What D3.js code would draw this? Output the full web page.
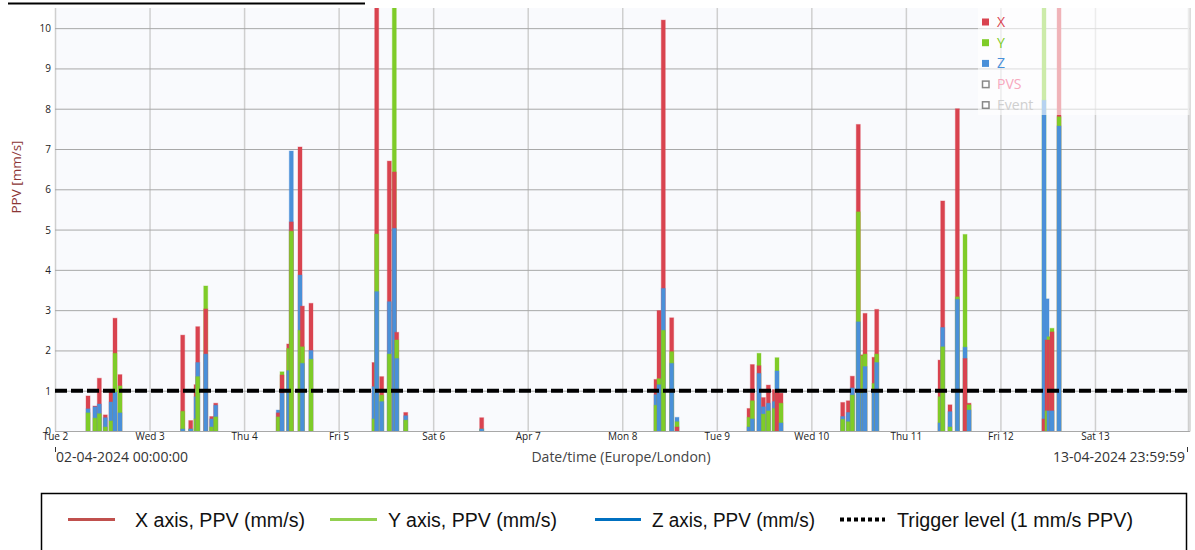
<!DOCTYPE html>
<html>
<head>
  <meta charset="utf-8">
  <script src="https://cdn.jsdelivr.net/npm/d3@7"></script>
  <style>
    body { margin: 0; background: #fff; }
    svg text { font-family: "Open Sans", "Noto Sans", sans-serif; }
    .tick text { font-size: 10px; fill: #222; }
    .legend-bottom text { font-family: "Liberation Sans Narrow", "Arial Narrow", "Liberation Sans", sans-serif; font-size: 20px; fill: #111; }
  </style>
</head>
<body>
<script>
  // event times (local), and PPV per axis in mm/s
  var eventTimes = [
    "04-02 08:23", "04-02 10:09", "04-02 11:15", "04-02 12:46", "04-02 14:13", "04-02 15:14", "04-02 16:30",
    "04-03 08:25", "04-03 10:27", "04-03 11:48", "04-03 12:14", "04-03 14:16", "04-03 15:47", "04-03 16:48",
    "04-04 08:41", "04-04 09:38", "04-04 11:20", "04-04 11:59", "04-04 14:12", "04-04 14:47", "04-04 16:59",
    "04-05 08:59", "04-05 09:40", "04-05 10:56", "04-05 12:52", "04-05 14:08", "04-05 14:45", "04-05 17:02",
    "04-06 12:19",
    "04-08 08:34", "04-08 09:20", "04-08 10:25", "04-08 12:33", "04-08 13:54",
    "04-09 08:11", "04-09 09:01", "04-09 10:43", "04-09 11:49", "04-09 13:05", "04-09 14:36", "04-09 15:17", "04-09 16:18",
    "04-10 07:58", "04-10 09:23", "04-10 10:24", "04-10 11:55", "04-10 13:02", "04-10 13:38", "04-10 15:55", "04-10 16:36",
    "04-11 08:40", "04-11 09:21", "04-11 11:12", "04-11 13:04", "04-11 15:01", "04-11 16:02",
    "04-12 11:04", "04-12 11:50", "04-12 12:20", "04-12 13:06", "04-12 14:53"
  ];
  var xPPV = [
    0.87, 0.62, 1.31, 0.40, 0.97, 2.80, 1.40,
    2.38, 0.26, 1.15, 2.59, 3.03, 0.36, 0.69,
    0.45, 1.39, 2.16, 5.19, 7.05, 3.10, 3.17,
    1.70, 11.5, 1.35, 6.70, 6.43, 2.45, 0.46,
    0.33,
    1.28, 2.99, 10.2, 2.81, 0.10,
    0.56, 1.65, 1.62, 0.83, 1.14, 1.03, 0.98, 0.94,
    0.71, 0.75, 1.36, 7.61, 1.89, 2.92, 1.83, 3.02,
    1.76, 5.71, 0.65, 8.00, 1.80, 0.69,
    0.30, 2.26, 2.26, 2.46, 11.5
  ];
  var yPPV = [
    0.45, 0.32, 0.43, 0.10, 0.25, 1.93, 1.12,
    0.49, 0.05, 0.30, 1.35, 3.60, 0.10, 0.35,
    0.35, 1.47, 2.05, 4.96, 2.50, 2.09, 1.78,
    0.30, 4.89, 0.89, 1.91, 11.5, 2.26, 0.27,
    0.05,
    0.64, 1.30, 2.50, 1.97, 0.23,
    0.34, 0.75, 1.93, 0.42, 0.50, 0.56, 1.82, 0.69,
    0.29, 0.23, 0.89, 5.44, 1.87, 1.91, 1.18, 1.91,
    0.85, 2.09, 0.10, 3.33, 4.88, 0.65,
    11.5, 0.50, 2.34, 2.55, 7.80
  ];
  var zPPV = [
    0.55, 0.60, 0.67, 0.33, 0.72, 0.96, 0.45,
    0.05, 0.05, 0.85, 1.70, 1.91, 0.30, 0.64,
    0.52, 0.94, 1.50, 6.95, 3.87, 1.68, 2.00,
    1.10, 3.46, 0.73, 3.21, 5.03, 1.80, 0.38,
    0.05,
    0.90, 1.15, 3.54, 1.68, 0.34,
    0.10, 0.30, 1.43, 0.60, 0.69, 0.73, 1.49, 0.20,
    0.36, 0.46, 1.07, 2.71, 0.94, 1.60, 1.02, 1.70,
    0.20, 2.57, 0.48, 3.27, 2.08, 0.52,
    8.21, 3.28, 0.50, 0.50, 7.57
  ];
  var triggerLevel = 1;
  var yTicks = [0, 1, 2, 3, 4, 5, 6, 7, 8, 9, 10];
  var dayLabels = ["Tue 2", "Wed 3", "Thu 4", "Fri 5", "Sat 6", "Apr 7", "Mon 8",
                   "Tue 9", "Wed 10", "Thu 11", "Fri 12", "Sat 13"];
  var seriesNames = ["X", "Y", "Z"];
  var seriesColors = ["#d9434f", "#7fcc28", "#4a90d9"];
  var bottomLegend = ["X axis, PPV (mm/s)", "Y axis, PPV (mm/s)", "Z axis, PPV (mm/s)", "Trigger level (1 mm/s PPV)"];

  var W = 1195, H = 550;
  var plotL = 55, plotR = 1189.5, plotT = 8, plotB = 431;

  var svg = d3.select("body").append("svg")
    .attr("width", W).attr("height", H);

  /* cut off header bar at the very top */
  svg.append("line")
    .attr("x1", 8).attr("x2", 365).attr("y1", 3.5).attr("y2", 3.5)
    .style("stroke", "#000").style("stroke-width", 2);

  var parseT = d3.timeParse("%Y-%m-%d %H:%M");
  var events = eventTimes.map(function(t, i) {
    return { t: parseT("2024-" + t), v: [xPPV[i], yPPV[i], zPPV[i]] };
  });

  var x = d3.scaleTime()
    .domain([new Date(2024, 3, 2), new Date(2024, 3, 14)])
    .range([plotL, plotR]);
  var y = d3.scaleLinear().domain([0, 10.5]).range([plotB, plotT]);

  // plot background
  svg.append("rect")
    .attr("x", plotL).attr("y", plotT)
    .attr("width", plotR - plotL).attr("height", plotB - plotT)
    .style("fill", "#f9fafd");

  // vertical grid + day labels
  var dayTicks = d3.timeDay.range(new Date(2024, 3, 2), new Date(2024, 3, 14));
  var xAxis = svg.append("g")
    .attr("transform", "translate(0," + plotB + ")")
    .call(d3.axisBottom(x).tickValues(dayTicks)
      .tickFormat(function(d, i) { return dayLabels[i]; })
      .tickSize(-(plotB - plotT)).tickPadding(1));
  xAxis.select(".domain").style("stroke", "#bbb");
  xAxis.selectAll(".tick line").style("stroke", "#cfcfcf").style("stroke-width", 1.5);
  xAxis.selectAll(".tick text").attr("dy", "0.8em");

  // horizontal grid + y labels
  var yAxis = svg.append("g")
    .attr("transform", "translate(" + plotL + ",0)")
    .call(d3.axisLeft(y).tickValues(yTicks).tickSize(-(plotR - plotL)).tickPadding(4));
  yAxis.select(".domain").remove();
  yAxis.selectAll(".tick line").style("stroke", "#a8a8a8").style("stroke-width", 1);
  yAxis.selectAll(".tick text").attr("dy", "0.35em");

  // right edge line
  svg.append("line")
    .attr("x1", plotR - 1).attr("x2", plotR - 1).attr("y1", plotT).attr("y2", plotB)
    .style("stroke", "#cfcfcf").style("stroke-width", 1.5);

  svg.append("clipPath").attr("id", "plotclip")
    .append("rect").attr("x", plotL).attr("y", plotT)
    .attr("width", plotR - plotL).attr("height", plotB - plotT);

  // bars: three overlaid bars per event, tallest drawn first
  var bars = svg.append("g").attr("clip-path", "url(#plotclip)");
  events.forEach(function(e) {
    var order = [0, 1, 2].sort(function(a, b) { return e.v[b] - e.v[a]; });
    bars.selectAll(null)
      .data(order)
      .enter().append("rect")
      .attr("x", x(e.t) - 2)
      .attr("width", 4)
      .attr("y", function(k) { return y(e.v[k]); })
      .attr("height", function(k) { return plotB - y(e.v[k]); })
      .style("fill", function(k) { return seriesColors[k]; })
      .style("stroke", function(k) { return seriesColors[k]; })
      .style("stroke-opacity", 0.35)
      .style("stroke-width", 1);
  });

  // trigger level
  svg.append("line")
    .attr("x1", plotL).attr("x2", plotR)
    .attr("y1", y(triggerLevel)).attr("y2", y(triggerLevel))
    .style("stroke", "#000").style("stroke-width", 4)
    .style("stroke-dasharray", "12,4");

  // in-plot legend with translucent panel
  svg.append("rect")
    .attr("x", 978).attr("y", plotT).attr("width", plotR - 978).attr("height", 107)
    .style("fill", "#fff").style("fill-opacity", 0.6);
  var legItems = [
    { name: "X", color: "#d9434f", box: "#d9434f", filled: true },
    { name: "Y", color: "#7fcc28", box: "#7fcc28", filled: true },
    { name: "Z", color: "#4a90d9", box: "#4a90d9", filled: true },
    { name: "PVS", color: "#f7a8bd", box: "#888", filled: false },
    { name: "Event", color: "#cfcfcf", box: "#888", filled: false }
  ];
  var leg = svg.append("g").selectAll("g").data(legItems).enter().append("g")
    .attr("transform", function(d, i) { return "translate(982," + (22 + i * 20.7) + ")"; });
  leg.append("rect")
    .attr("x", function(d) { return d.filled ? 0 : 0.5; })
    .attr("y", function(d) { return d.filled ? -3.5 : -3; })
    .attr("width", function(d) { return d.filled ? 7 : 6.5; })
    .attr("height", function(d) { return d.filled ? 7 : 6.5; })
    .style("fill", function(d) { return d.filled ? d.box : "none"; })
    .style("stroke", function(d) { return d.filled ? "none" : d.box; })
    .style("stroke-width", 1.5);
  leg.append("text")
    .attr("x", 15).attr("y", 0).attr("dy", "0.36em")
    .style("font-size", "14px")
    .style("fill", function(d) { return d.color; })
    .text(function(d) { return d.name; });

  // y axis title
  svg.append("text")
    .attr("transform", "translate(21,177) rotate(-90)")
    .attr("text-anchor", "middle")
    .style("font-size", "13.5px").style("fill", "#8b3535")
    .text("PPV [mm/s]");

  // date range + axis title
  var dateFmt = d3.timeFormat("%d-%m-%Y %H:%M:%S");
  svg.append("line").attr("x1", 55.5).attr("x2", 55.5).attr("y1", 447).attr("y2", 452)
    .style("stroke", "#333");
  svg.append("text").attr("x", 56).attr("y", 462)
    .style("font-size", "14px").style("fill", "#333")
    .text(dateFmt(new Date(2024, 3, 2, 0, 0, 0)));
  svg.append("text").attr("x", 621).attr("y", 462).attr("text-anchor", "middle")
    .style("font-size", "14px").style("fill", "#444")
    .text("Date/time (Europe/London)");
  svg.append("text").attr("x", 1185).attr("y", 462).attr("text-anchor", "end")
    .style("font-size", "14px").style("fill", "#333")
    .text(dateFmt(new Date(2024, 3, 13, 23, 59, 59)));
  svg.append("line").attr("x1", 1187.5).attr("x2", 1187.5).attr("y1", 447).attr("y2", 452)
    .style("stroke", "#333");

  // bottom legend box
  var lb = svg.append("g").attr("class", "legend-bottom");
  lb.append("rect")
    .attr("x", 41.5).attr("y", 493.5).attr("width", 1145).attr("height", 70)
    .style("fill", "#fff").style("stroke", "#000").style("stroke-width", 1.5);
  var lbItems = [
    { x1: 68, x2: 115, tx: 135, tw: 170, color: "#c0504d", dash: null },
    { x1: 330, x2: 377, tx: 388, tw: 169, color: "#92d050", dash: null },
    { x1: 595, x2: 641, tx: 652, tw: 163, color: "#0070c0", dash: null },
    { x1: 840, x2: 885, tx: 897, tw: 236, color: "#000", dash: "4,3" }
  ];
  lbItems.forEach(function(d, i) {
    lb.append("line")
      .attr("x1", d.x1).attr("x2", d.x2).attr("y1", 519.5).attr("y2", 519.5)
      .style("stroke", d.color).style("stroke-width", d.dash ? 4 : 3)
      .style("stroke-dasharray", d.dash);
    lb.append("text")
      .attr("x", d.tx).attr("y", 527)
      .attr("textLength", d.tw).attr("lengthAdjust", "spacingAndGlyphs")
      .text(bottomLegend[i]);
  });
</script>
</body>
</html>
